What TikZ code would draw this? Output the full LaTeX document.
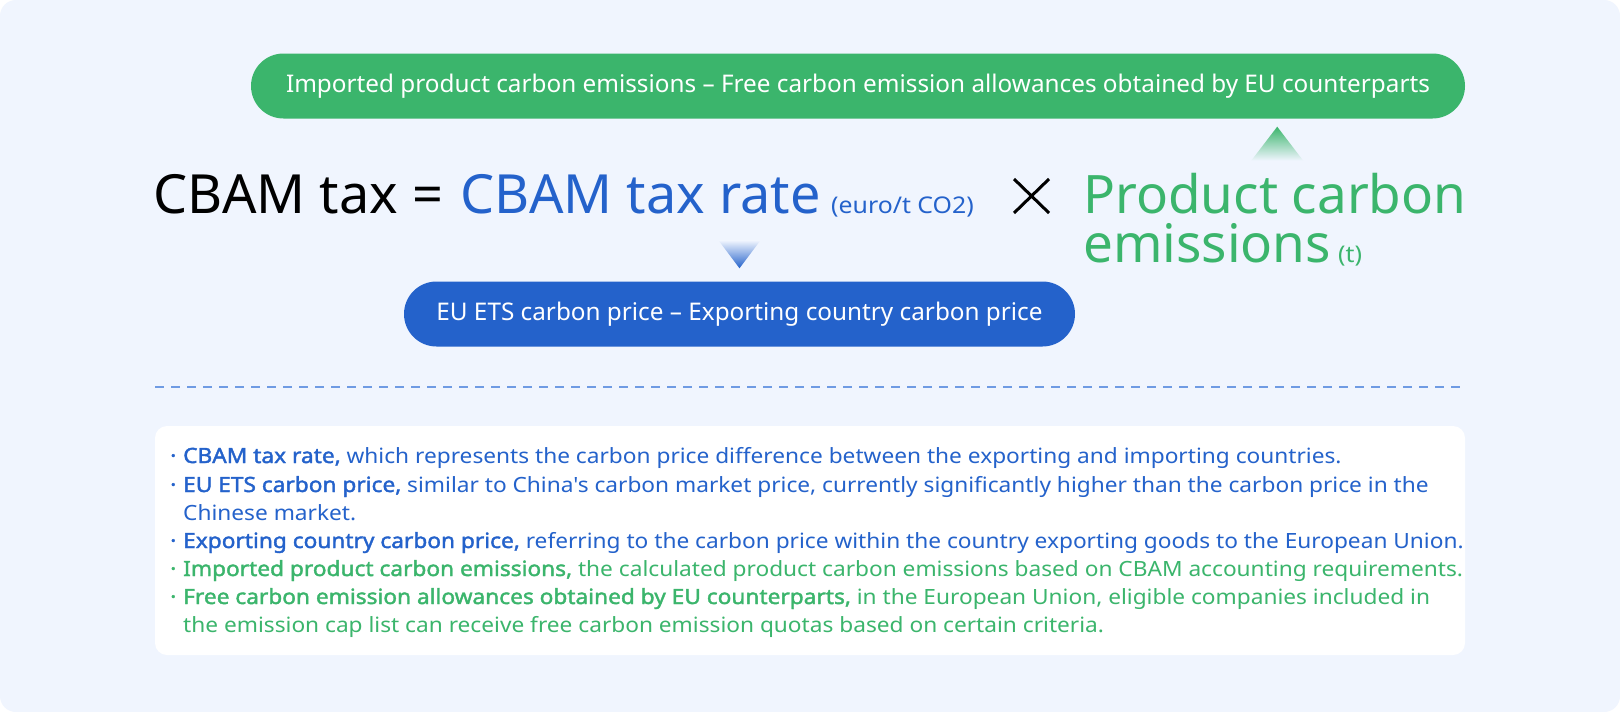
\documentclass[tikz,border=0pt]{standalone}
\usepackage{fontspec}
\setmainfont{Noto Sans}[AutoFakeBold=1.8]
\newfontfamily\notefont{Noto Sans}[FakeStretch=1.08, AutoFakeBold=1.8]
\usepackage{tikz}
\usetikzlibrary{positioning, calc, shapes}

\definecolor{bgblue}{HTML}{F0F5FE}
\definecolor{cbblue}{HTML}{2462CB}
\definecolor{cbgreen}{HTML}{3BB56C}
\definecolor{dashblue}{HTML}{6F9BE3}
\newcommand{\bul}{\makebox[13pt][l]{\textbf{·}}}

\begin{document}
\begin{tikzpicture}[x=1pt,y=-1pt,
  pill/.style={rectangle, rounded corners=32.5pt, minimum height=65pt, inner sep=0pt,
    text=white, font=\fontsize{24.3}{28}\selectfont},
  big/.style={anchor=base west, inner sep=0pt, font=\fontsize{54}{60}\selectfont},
  unit/.style={anchor=base west, inner sep=0pt, font=\notefont\fontsize{23}{26}\selectfont},
  item/.style={anchor=base west, inner sep=0pt, font=\notefont\fontsize{21}{28}\selectfont}]
\useasboundingbox (0,0) rectangle (1620,712);
\fill[white] (0,0) rectangle (1620,712);
\fill[bgblue, rounded corners=16pt] (0,0) rectangle (1620,712);

% the two explanation pills
\node[pill, fill=cbgreen, minimum width=1214pt] (pillG) at (858,86)
  {Imported product carbon emissions – Free carbon emission allowances obtained by EU counterparts};
\node[pill, fill=cbblue, minimum width=671pt] (pillB) at (739.5,314)
  {EU ETS carbon price – Exporting country carbon price};

% the formula
\node[big] (tax) at (153,213) {CBAM tax};
\node[big] (eq) at (412,213) {=};
\node[big, text=cbblue] (rate) at (460,213) {CBAM tax rate};
\node[unit, text=cbblue] (rateunit) at (831,213) {(euro/t CO2)};
\draw[line width=3pt] (1014,179) -- (1049,213) (1049,179) -- (1014,213);
\node[big, text=cbgreen, font=\fontsize{53}{60}\selectfont] (prod) at (1083,213) {Product carbon};
\node[big, text=cbgreen, font=\fontsize{53}{60}\selectfont] (emis) at (1083,262) {emissions};
\node[unit, text=cbgreen] (emisunit) at (1338,262) {(t)};

% pointers
\shade[top color=bgblue, bottom color=cbblue]
  ($(pillB.north)+(-21,-41)$) -- ($(pillB.north)+(21,-41)$) -- ($(pillB.north)+(0,-13)$) -- cycle;
\shade[top color=cbgreen, bottom color=bgblue]
  ($(pillG.south east)+(-188,8)$) -- ($(pillG.south east)+(-162,42)$) -- ($(pillG.south east)+(-214,42)$) -- cycle;

\draw[dashblue, line width=1.5pt, dash pattern=on 9pt off 7pt] (155,387) -- (1465,387);

% notes
\fill[white, rounded corners=12pt] (155,426) rectangle (1465,655);
\node[item, text=cbblue] (n1) at (170,463)
  {\bul\textbf{CBAM tax rate,} which represents the carbon price difference between the exporting and importing countries.};
\node[item, text=cbblue] (n2) at (170,492)
  {\vtop{\hbox{\bul\textbf{EU ETS carbon price,} similar to China's carbon market price, currently significantly higher than the carbon price in the}
   \hbox{\hspace*{13pt}Chinese market.}}};
\node[item, text=cbblue] (n3) at (170,548)
  {\bul\textbf{Exporting country carbon price,} referring to the carbon price within the country exporting goods to the European Union.};
\node[item, text=cbgreen] (n4) at (170,576)
  {\bul\textbf{Imported product carbon emissions,} the calculated product carbon emissions based on CBAM accounting requirements.};
\node[item, text=cbgreen] (n5) at (170,604)
  {\vtop{\hbox{\bul\textbf{Free carbon emission allowances obtained by EU counterparts,} in the European Union, eligible companies included in}
   \hbox{\hspace*{13pt}the emission cap list can receive free carbon emission quotas based on certain criteria.}}};
\end{tikzpicture}
\end{document}
